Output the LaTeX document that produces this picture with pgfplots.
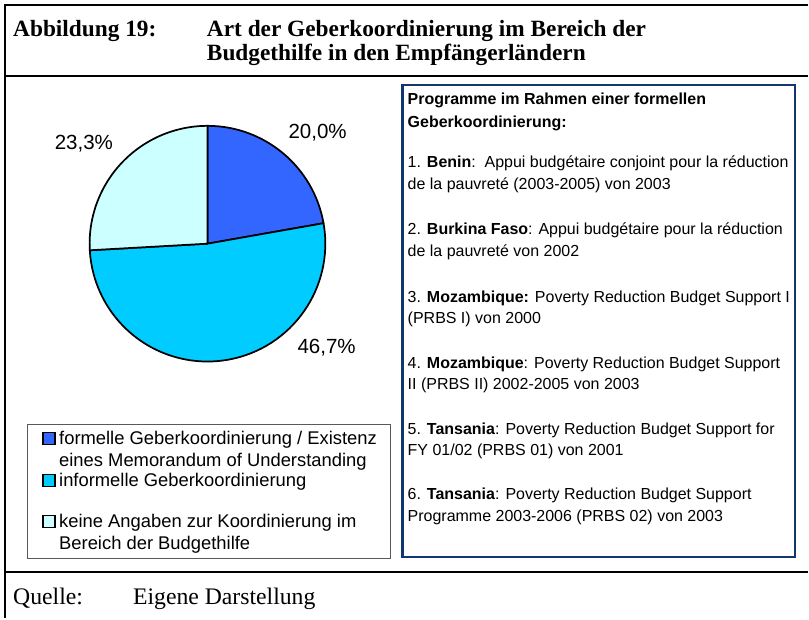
\documentclass[border=0pt]{standalone}
\usepackage{pgfplots}
\pgfplotsset{compat=1.18}
\usepackage{pgfplotstable}
\usepackage{fontspec}
\setmainfont{Liberation Serif}
\setsansfont{Liberation Sans}

\definecolor{pieA}{RGB}{51,102,255}
\definecolor{pieB}{RGB}{0,204,255}
\definecolor{pieC}{RGB}{204,255,255}
\definecolor{boxblue}{RGB}{16,56,110}

% Anteile in Prozent (Summe wie im Original 90)
\pgfplotstableread{
share
20.0
46.7
23.3
}\piedata

\begin{document}
\begin{tikzpicture}
\pgfplotstablegetelem{0}{share}\of\piedata \let\sA\pgfplotsretval
\pgfplotstablegetelem{1}{share}\of\piedata \let\sB\pgfplotsretval
\pgfplotstablegetelem{2}{share}\of\piedata \let\sC\pgfplotsretval
\pgfmathsetmacro\tot{\sA+\sB+\sC}
\pgfmathsetmacro\aA{90-\sA/\tot*360}
\pgfmathsetmacro\aB{\aA-\sB/\tot*360}
\pgfmathsetmacro\aC{\aB-\sC/\tot*360}

\begin{axis}[
  at={(155.8pt,-183pt)}, anchor=center,
  scale only axis, width=177pt, height=177pt,
  xmin=-1, xmax=1, ymin=-1, ymax=1,
  hide axis, clip=false
  ]
  \addplot[draw=none] coordinates {(0,0)};
  \filldraw[fill=pieA, draw=black, line width=1.3pt, line join=round]
    (axis cs:0,0) -- (axis cs:0,1) arc[start angle=90, end angle=\aA, radius=88.5pt] -- cycle;
  \filldraw[fill=pieB, draw=black, line width=1.3pt, line join=round]
    (axis cs:0,0) -- (axis cs:{cos(\aA)},{sin(\aA)}) arc[start angle=\aA, end angle=\aB, radius=88.5pt] -- cycle;
  \filldraw[fill=pieC, draw=black, line width=1.3pt, line join=round]
    (axis cs:0,0) -- (axis cs:{cos(\aB)},{sin(\aB)}) arc[start angle=\aB, end angle=\aC, radius=88.5pt] -- cycle;
\end{axis}

\begin{scope}[x=0.75pt, y=-0.75pt]
  \path (0,0) rectangle (809,619);
  % Rahmen
  \draw[line width=1.6pt] (5,619) -- (5,5) -- (809,5);
  \draw[line width=1.6pt] (5,76) -- (809,76);
  \draw[line width=1.6pt] (5,573) -- (809,573);

  % Titel
  \begin{scope}[every node/.style={anchor=base west, inner sep=0pt, font=\fontsize{17.5}{20}\selectfont\bfseries}]
    \node at (13,37) {Abbildung 19:};
    \node at (207,37) {Art der Geberkoordinierung im Bereich der};
    \node at (207,61) {Budgethilfe in den Empfängerländern};
  \end{scope}

  % Quelle
  \begin{scope}[every node/.style={anchor=base west, inner sep=0pt, font=\fontsize{17.8}{20}\selectfont}]
    \node at (13,605) {Quelle:};
    \node at (133,605) {Eigene Darstellung};
  \end{scope}

  % Prozentangaben
  \begin{scope}[every node/.style={inner sep=0pt, font=\sffamily\fontsize{15.4}{17}\selectfont}]
    \node at (318,133) {20,0\%};
    \node at (84,144) {23,3\%};
    \node at (327,348) {46,7\%};
  \end{scope}

  % Legende
  \draw[gray!70!black, line width=0.6pt] (27,425) rectangle (391,559);
  \draw[black, line width=1pt, fill=pieA] (43,433) rectangle (55,445);
  \draw[black, line width=1pt, fill=pieB] (43,475) rectangle (55,487);
  \draw[black, line width=1pt, fill=pieC] (43,516) rectangle (55,528);
  \begin{scope}[every node/.style={anchor=base west, inner sep=0pt, font=\sffamily\fontsize{13.8}{16}\selectfont}]
    \node at (59,445) {formelle Geberkoordinierung / Existenz};
    \node at (59,467) {eines Memorandum of Understanding};
    \node at (59,487) {informelle Geberkoordinierung};
    \node at (59,528) {keine Angaben zur Koordinierung im};
    \node at (59,550) {Bereich der Budgethilfe};
  \end{scope}

  % Textkasten
  \draw[boxblue, line width=1.6pt] (403,85) rectangle (796,558);
  \begin{scope}[every node/.style={anchor=base west, inner sep=0pt, font=\sffamily\fontsize{12}{14}\selectfont}]
    \node at (408,105) {\bfseries Programme im Rahmen einer formellen};
    \node at (408,128) {\bfseries Geberkoordinierung:};
    \node at (408,168) {1. \textbf{Benin}:\ \ Appui budgétaire conjoint pour la réduction};
    \node at (408,190) {de la pauvreté (2003-2005) von 2003};
    \node at (408,235) {2. \textbf{Burkina Faso}: Appui budgétaire pour la réduction};
    \node at (408,257) {de la pauvreté von 2002};
    \node at (408,303) {3. \textbf{Mozambique:} Poverty Reduction Budget Support I};
    \node at (408,324) {(PRBS I) von 2000};
    \node at (408,369) {4. \textbf{Mozambique}: Poverty Reduction Budget Support};
    \node at (408,390) {II (PRBS II) 2002-2005 von 2003};
    \node at (408,435) {5. \textbf{Tansania}: Poverty Reduction Budget Support for};
    \node at (408,456) {FY 01/02 (PRBS 01) von 2001};
    \node at (408,500) {6. \textbf{Tansania}: Poverty Reduction Budget Support};
    \node at (408,522) {Programme 2003-2006 (PRBS 02) von 2003};
  \end{scope}
\end{scope}
\end{tikzpicture}
\end{document}
